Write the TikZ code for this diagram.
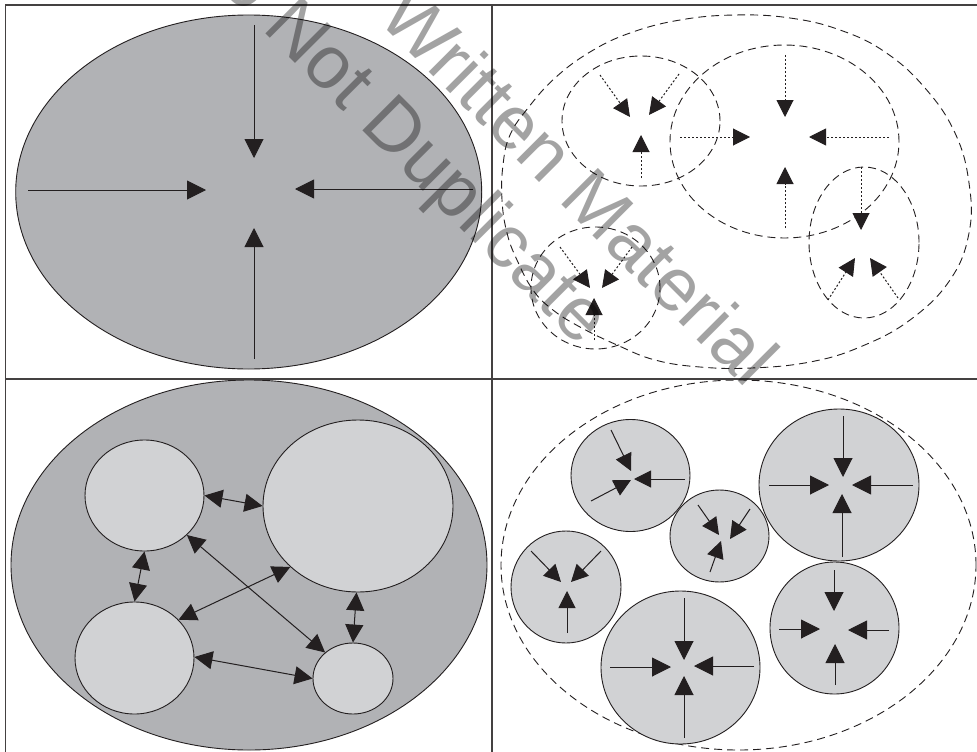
\documentclass[tikz,border=0pt]{standalone}
\usepackage{fontspec}
\setmainfont{Liberation Sans}
\usetikzlibrary{arrows.meta,shapes.geometric}
\definecolor{ink}{HTML}{231F20}
\definecolor{darkfill}{HTML}{B1B2B5}
\definecolor{lightfill}{HTML}{D1D2D4}
\begin{document}
\begin{tikzpicture}[x=1pt,y=-1pt,
  frame/.style={line width=1.3pt, draw=ink!85},
  outline/.style={line width=0.9pt, draw=ink},
  dashline/.style={dash pattern=on 8pt off 5pt, line width=0.9pt, draw=ink},
  inarr/.style={line width=1pt, draw=ink, -{Triangle[length=19pt,width=19pt]}},
  inarrs/.style={line width=1pt, draw=ink, -{Triangle[length=17pt,width=17pt]}},
  dotarr/.style={inarrs, dash pattern=on 2pt off 2pt},
  dbl/.style={line width=1pt, draw=ink, {Triangle[length=18pt,width=18pt]}-{Triangle[length=18pt,width=18pt]}},
  cell/.style={ellipse, draw=ink, line width=0.9pt, fill=lightfill, inner sep=0pt},
  wm/.style={text=black, text opacity=0.36, font=\fontsize{75}{75}\selectfont, inner sep=0pt, anchor=base west, rotate=-45}
]
\useasboundingbox (0,0) rectangle (977,752);
\fill[white] (0,0) rectangle (977,752);

% ---------- top left ----------
\draw[outline, fill=darkfill] (248.7,192) ellipse [x radius=233pt, y radius=177pt];
\draw[inarr] (254,25) -- (254,158);
\draw[inarr] (28,190) -- (206,190);
\draw[inarr] (473,189) -- (295,189);
\draw[inarr] (254,359) -- (254,228);

% ---------- top right ----------
\draw[dashline] plot[smooth cycle, tension=0.7] coordinates {
  (735,15) (790,18) (840,30) (885,52) (925,88) (955,133) (969,183) (969,233)
  (950,280) (910,320) (860,347) (810,362) (752,368) (700,367) (655,360)
  (617,345) (580,327) (553,310) (533,290) (517,260) (507,233) (502,200)
  (503,165) (510,135) (528,108) (555,78) (590,52) (630,33) (680,20)};
\draw[dashline] (641,121) ellipse [x radius=79pt, y radius=65pt];
\draw[dashline] (784.5,141.5) ellipse [x radius=114.5pt, y radius=96.5pt];
\draw[dashline] (864,242.5) ellipse [x radius=55pt, y radius=75.5pt];
\draw[dashline] (595.5,288) ellipse [x radius=64.5pt, y radius=61pt];
\draw[dotarr] (600,75) -- (630,117);
\draw[dotarr] (679,74) -- (649,115);
\draw[dotarr] (641,178) -- (641,135);
\draw[dotarr] (785,55) -- (785,117);
\draw[dotarr] (680,137) -- (750,137);
\draw[dotarr] (889,137) -- (809,137);
\draw[dotarr] (785,228) -- (785,167);
\draw[dotarr] (861,167) -- (861,230);
\draw[dotarr] (828,300) -- (855,258);
\draw[dotarr] (898,298) -- (870,258);
\draw[dotarr] (560,247) -- (590,288);
\draw[dotarr] (632,247) -- (602,288);
\draw[dotarr] (594,340) -- (594,298);

% ---------- bottom left ----------
\draw[outline, fill=darkfill] (249,565) ellipse [x radius=238pt, y radius=185pt];
\node[cell, minimum width=119pt, minimum height=111pt] (A) at (144.5,495.5) {};
\node[cell, minimum width=190pt, minimum height=172pt] (B) at (358,506) {};
\node[cell, minimum width=119pt, minimum height=112pt] (C) at (134.5,658) {};
\node[cell, minimum width=80pt, minimum height=71pt] (D) at (353,678.5) {};
\draw[dbl] (A.0) -- (B.180);
\draw[dbl] (A.270) -- (C.90);
\draw[dbl] (A.317.8) -- (D.137.7);
\draw[dbl] (C.41.9) -- (B.222.3);
\draw[dbl] (C.1) -- (D.180);
\draw[dbl] (B.269.3) -- (D.90);

% ---------- bottom right ----------
\draw[dashline] (738.5,565) ellipse [x radius=237.5pt, y radius=185pt];
\draw[outline, fill=lightfill] (630.5,475.5) ellipse [x radius=59.5pt, y radius=56pt];
\draw[outline, fill=lightfill] (719.5,536) ellipse [x radius=49.5pt, y radius=46pt];
\draw[outline, fill=lightfill] (839,485) ellipse [x radius=80pt, y radius=76pt];
\draw[outline, fill=lightfill] (566,587) ellipse [x radius=55pt, y radius=56pt];
\draw[outline, fill=lightfill] (680.5,667.5) ellipse [x radius=79.5pt, y radius=76.5pt];
\draw[outline, fill=lightfill] (834.5,628) ellipse [x radius=64.5pt, y radius=66pt];
\draw[inarrs] (611,430) -- (631,471);
\draw[inarrs] (591,501) -- (631,480);
\draw[inarrs] (685,479) -- (634,479);
\draw[inarrs] (698,505) -- (719,535);
\draw[inarrs] (750,509) -- (730,539);
\draw[inarrs] (710,572) -- (721,541);
\draw[inarr] (843,416) -- (843,477);
\draw[inarr] (769,485) -- (829,485);
\draw[inarr] (913,485) -- (852,485);
\draw[inarr] (842,557) -- (842,494);
\draw[inarrs] (531,551) -- (561,582);
\draw[inarrs] (601,551) -- (571,582);
\draw[inarrs] (567,633) -- (567,591);
\draw[inarr] (684,598) -- (684,660);
\draw[inarr] (610,667) -- (671,667);
\draw[inarr] (754,666) -- (694,666);
\draw[inarr] (684,738) -- (684,676);
\draw[inarr] (834,570) -- (834,611);
\draw[inarr] (779,629) -- (820,629);
\draw[inarr] (889,630) -- (848,630);
\draw[inarr] (835,685) -- (835,644);

% ---------- frame ----------
\draw[frame] (5.7,752) -- (5.7,5) -- (977,5);
\draw[frame] (492,5) -- (492,752);
\draw[frame] (5.7,379) -- (977,379);

% ---------- watermark ----------
\node[wm] (wm1) at (179,-53) {Do Not Duplicate};
\node[wm] (wm2) at (376,19) {Written Material};
\end{tikzpicture}
\end{document}
